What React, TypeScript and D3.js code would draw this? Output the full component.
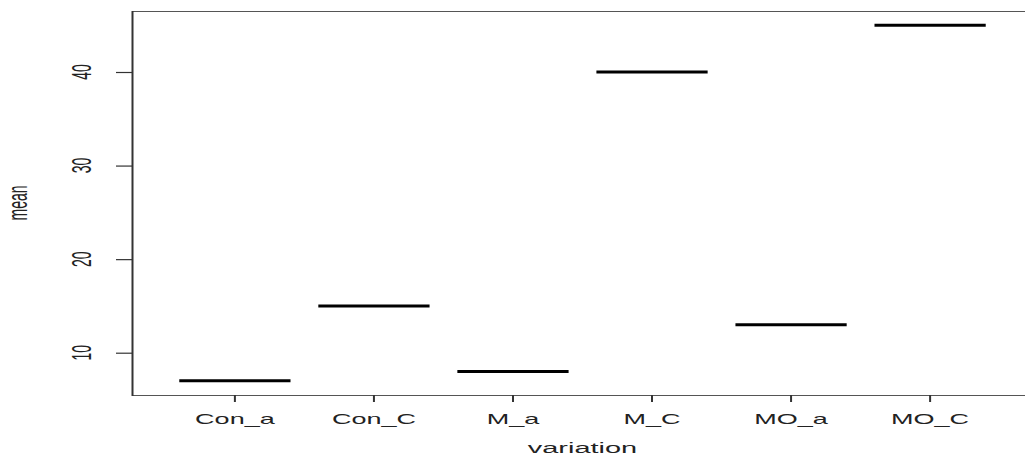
import React, { useEffect, useRef } from 'react'
import * as d3 from 'd3'

// groups on the x axis and the single mean of each
const variations = ['Con_a', 'Con_C', 'M_a', 'M_C', 'MO_a', 'MO_C']
const means = [7, 15, 8, 40, 13, 45]
const yTicks = [10, 20, 30, 40]

const W = 1025
const H = 461
const stretch = 1.93 // the picture is squeezed wide

function App() {
  const svgRef = useRef<SVGSVGElement>(null)

  useEffect(() => {
    const svg = d3.select(svgRef.current)
    svg.selectAll('*').remove()

    const plot = { left: 132, right: 1033, top: 11, bottom: 395 }
    const n = variations.length

    // R boxplot style limits: 0.5..n+0.5, plus 4% each side
    const xPad = (n) * 0.04
    const x = d3.scaleLinear()
      .domain([0.5 - xPad, n + 0.5 + xPad])
      .range([plot.left, plot.right])

    const yMin = d3.min(means)!
    const yMax = d3.max(means)!
    const yPad = (yMax - yMin) * 0.04
    const y = d3.scaleLinear()
      .domain([yMin - yPad, yMax + yPad])
      .range([plot.bottom, plot.top])

    const font = 'Liberation Sans, Arial, sans-serif'

    // box
    svg.append('line')
      .attr('x1', plot.left).attr('x2', plot.right)
      .attr('y1', plot.top + 0.5).attr('y2', plot.top + 0.5)
      .attr('stroke', '#555').attr('stroke-width', 1.2)
    svg.append('line')
      .attr('x1', plot.left).attr('x2', plot.right)
      .attr('y1', plot.bottom + 0.5).attr('y2', plot.bottom + 0.5)
      .attr('stroke', '#555').attr('stroke-width', 1.2)
    svg.append('line')
      .attr('x1', plot.left + 0.5).attr('x2', plot.left + 0.5)
      .attr('y1', plot.top).attr('y2', plot.bottom + 1)
      .attr('stroke', '#333').attr('stroke-width', 2)

    // medians (single values)
    svg.append('g')
      .selectAll('line')
      .data(means)
      .join('line')
      .attr('x1', (d, i) => x(i + 1 - 0.4))
      .attr('x2', (d, i) => x(i + 1 + 0.4))
      .attr('y1', d => y(d))
      .attr('y2', d => y(d))
      .attr('stroke', '#000')
      .attr('stroke-width', 3)

    // x axis ticks and labels
    const xg = svg.append('g')
    xg.selectAll('line')
      .data(variations)
      .join('line')
      .attr('x1', (d, i) => x(i + 1)).attr('x2', (d, i) => x(i + 1))
      .attr('y1', plot.bottom).attr('y2', plot.bottom + 7)
      .attr('stroke', '#333').attr('stroke-width', 2)
    xg.selectAll('text')
      .data(variations)
      .join('text')
      .attr('transform', (d, i) => `translate(${x(i + 1)},424) scale(${stretch},1)`)
      .attr('text-anchor', 'middle')
      .attr('font-family', font)
      .attr('font-size', 14)
      .attr('fill', '#222')
      .text(d => d)

    // y axis ticks and labels
    const yg = svg.append('g')
    yg.selectAll('line')
      .data(yTicks)
      .join('line')
      .attr('x1', plot.left - 16).attr('x2', plot.left)
      .attr('y1', d => y(d) + 0.5).attr('y2', d => y(d) + 0.5)
      .attr('stroke', '#333').attr('stroke-width', 1.2)
    yg.selectAll('text')
      .data(yTicks)
      .join('text')
      .attr('transform', d => `translate(91,${y(d)}) scale(${stretch},1) rotate(-90)`)
      .attr('text-anchor', 'middle')
      .attr('font-family', font)
      .attr('font-size', 14)
      .attr('fill', '#222')
      .text(d => d)

    // axis titles
    svg.append('text')
      .attr('transform', `translate(${(plot.left + plot.right) / 2},453) scale(${stretch},1)`)
      .attr('text-anchor', 'middle')
      .attr('font-family', font)
      .attr('font-size', 15)
      .attr('fill', '#222')
      .text('variation')

    svg.append('text')
      .attr('transform', `translate(27,${(plot.top + plot.bottom) / 2}) scale(${stretch},1) rotate(-90)`)
      .attr('text-anchor', 'middle')
      .attr('font-family', font)
      .attr('font-size', 14)
      .attr('fill', '#222')
      .text('mean')
  }, [])

  return (
    <svg
      ref={svgRef}
      width={W}
      height={H}
      style={{ position: 'absolute', left: 0, top: 0, background: '#fff' }}
    ></svg>
  )
}
export default App
